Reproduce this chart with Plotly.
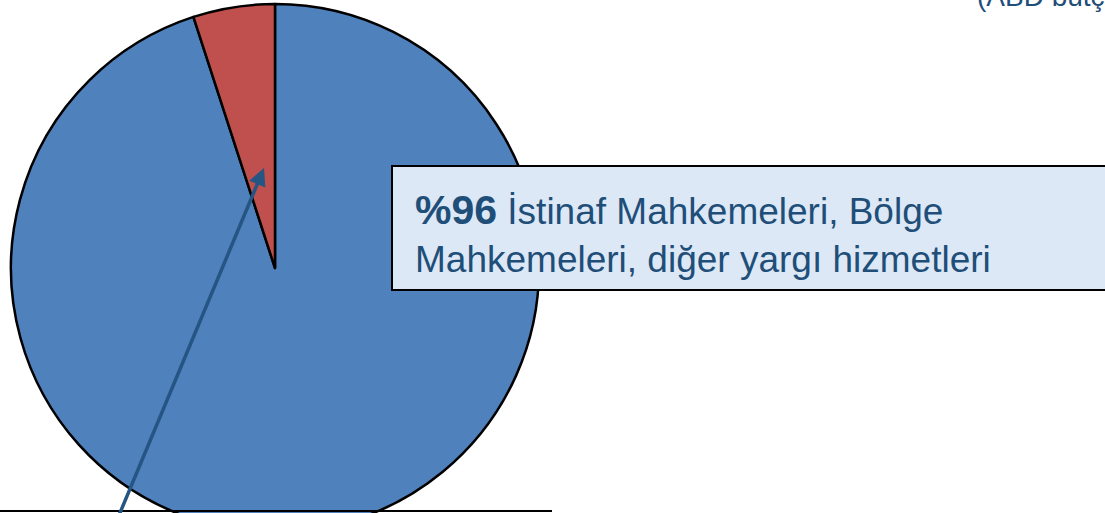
import plotly.graph_objects as go

# Data
slice_labels = ["İstinaf Mahkemeleri, Bölge Mahkemeleri, diğer yargı hizmetleri", "Diğer"]
slice_values = [95, 5]
slice_colors = ["#4F81BD", "#C0504D"]

W, H = 1105, 540

def px(x):
    return x / W

def py(y):
    return 1 - y / H

cx, cy, r = 275, 268, 264

fig = go.Figure()
fig.add_trace(go.Pie(
    labels=slice_labels,
    values=slice_values,
    sort=False,
    direction="clockwise",
    rotation=0,
    textinfo="none",
    hoverinfo="none",
    showlegend=False,
    marker=dict(colors=slice_colors, line=dict(color="black", width=2.5)),
    domain=dict(x=[px(cx - r), px(cx + r)], y=[py(cy + r), py(cy - r)]),
))

TXT = "#1F4E79"

fig.update_layout(
    width=W, height=H,
    margin=dict(l=0, r=0, t=0, b=0),
    paper_bgcolor="white",
    plot_bgcolor="white",
    font=dict(family="Liberation Sans, Arial, sans-serif", color=TXT),
    shapes=[
        dict(type="rect", xref="paper", yref="paper",
             x0=px(392), x1=px(1115), y0=py(290), y1=py(166),
             fillcolor="#DCE8F5", line=dict(color="black", width=2), layer="above"),
        dict(type="line", xref="paper", yref="paper",
             x0=0, x1=px(552), y0=py(511), y1=py(511),
             line=dict(color="black", width=2), layer="above"),
    ],
    annotations=[
        dict(xref="paper", yref="paper", x=px(413), y=py(233),
             xanchor="left", yanchor="middle", align="left", showarrow=False,
             text="<b><span style='font-size:41px'>%96</span></b> İstinaf Mahkemeleri, Bölge<br>Mahkemeleri, diğer yargı hizmetleri",
             font=dict(size=37, color=TXT, family="Liberation Sans, Arial, sans-serif")),
        dict(xref="paper", yref="paper", x=px(975), y=py(14),
             xanchor="left", yanchor="bottom", align="left", showarrow=False,
             text="(ABD bütçesi)",
             font=dict(size=28, color=TXT, family="Liberation Sans, Arial, sans-serif")),
        dict(xref="paper", yref="paper", x=px(264), y=py(168),
             text="", showarrow=True, arrowhead=2, arrowsize=1, arrowwidth=3.5,
             arrowcolor="#255582", ax=-152, ay=364),
    ],
)

fig.write_html("out.html", config={"displayModeBar": False},
               post_script="document.body.style.margin='0';document.body.style.overflow='hidden';")
